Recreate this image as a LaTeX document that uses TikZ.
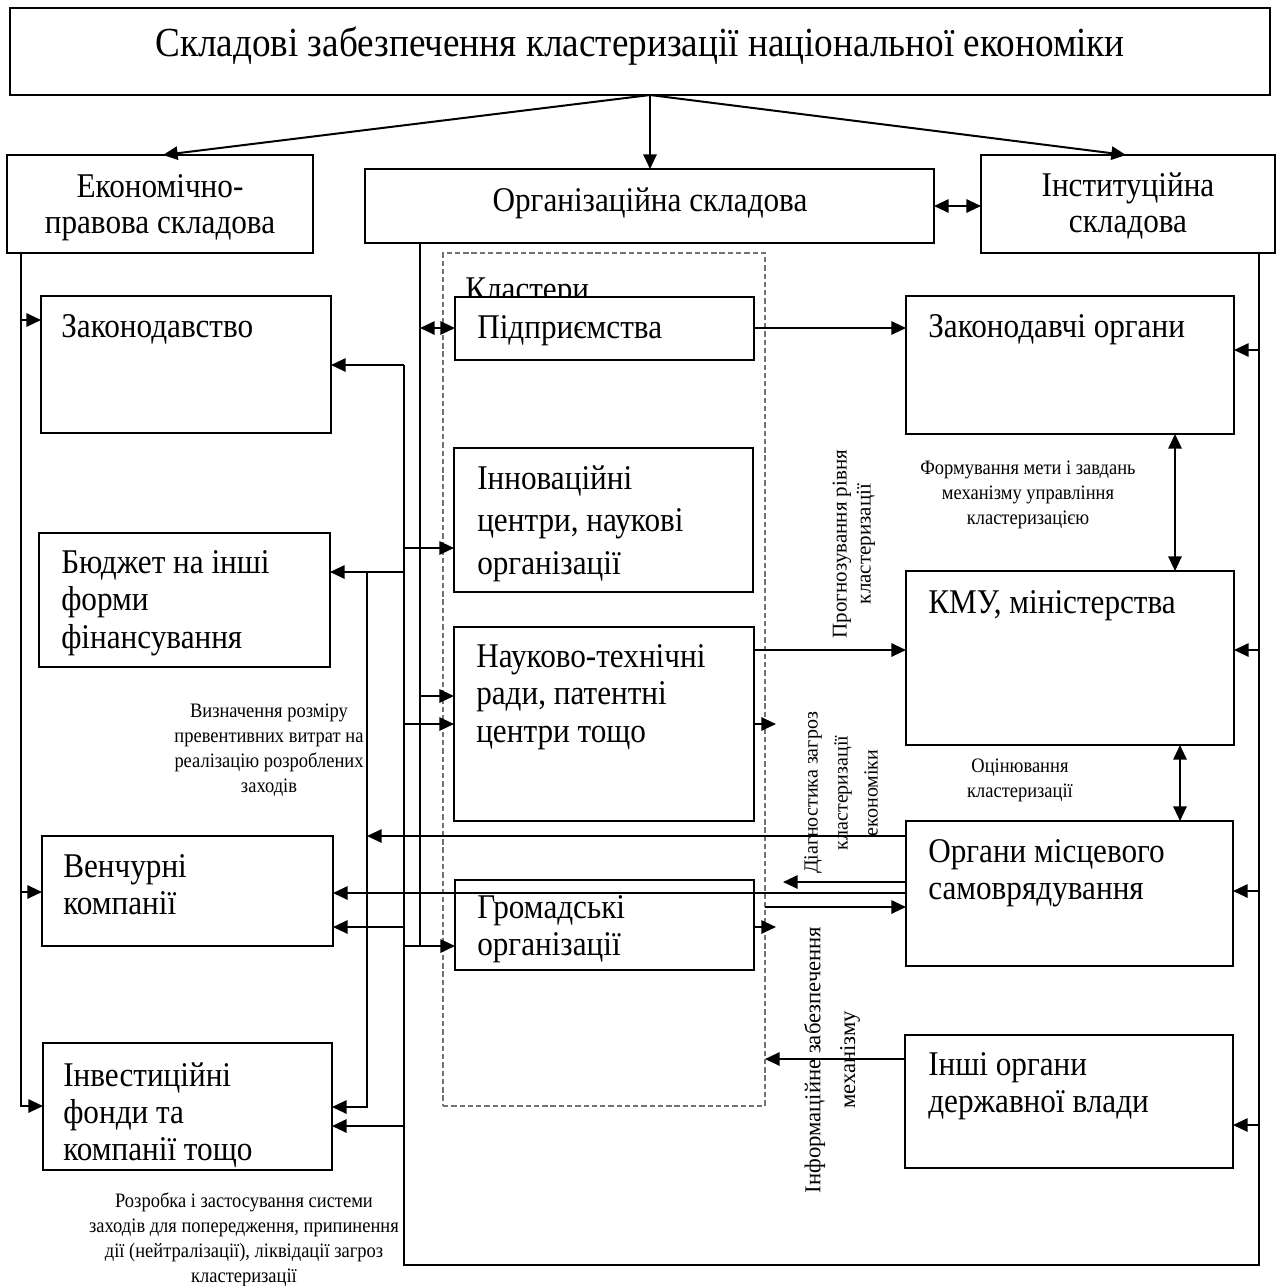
\documentclass[tikz,border=0pt]{standalone}
\usepackage{fontspec}
\setmainfont{Liberation Serif}[FakeStretch=0.9]
\newfontfamily\rotfont{Liberation Serif}
\usetikzlibrary{arrows.meta,fit}
\begin{document}
\begin{tikzpicture}[x=0.75pt,y=-0.75pt,
 bx/.style={draw, line width=1.1pt, fill=white, inner sep=0pt, outer sep=0pt},
 clbox/.style={draw=black!55, dash pattern=on 4pt off 2.2pt, line width=0.9pt, inner sep=0pt, outer sep=0pt},
 ln/.style={line width=1.5pt, line join=miter},
 arr/.style={line width=1.5pt, -{Triangle[length=11pt,width=10pt]}},
 darr/.style={line width=1.5pt, {Triangle[length=11pt,width=10pt]}-{Triangle[length=11pt,width=10pt]}},
 bigtxt/.style={font=\fontsize{26}{28.1}\selectfont, inner sep=0pt, anchor=north west, align=left},
 headtxt/.style={font=\fontsize{26}{27}\selectfont, inner sep=0pt, align=center},
 smalltxt/.style={font=\fontsize{15.4}{18.75}\selectfont, inner sep=0pt, align=center},
 rottxt/.style={inner sep=0pt, align=center, rotate=90}
]
\useasboundingbox (0,0) rectangle (1279,1286);

% cluster frame
\node[clbox, fit={(443,253)(765,1106)}] (clu) {};
\node[bigtxt, anchor=base west] (kl) at (465,300) {Кластери};

% boxes
\node[bx, fit={(10,8)(1270,95)}] (title) {};
\node[bx, fit={(7,155)(313,253)}] (ekon) {};
\node[bx, fit={(365,169)(934,243)}] (org) {};
\node[bx, fit={(981,155)(1275,253)}] (inst) {};
\node[bx, fit={(41,296)(331,433)}] (zak) {};
\node[bx, fit={(39,533)(330,667)}] (bud) {};
\node[bx, fit={(42,836)(333,946)}] (ven) {};
\node[bx, fit={(43,1043)(332,1170)}] (inv) {};
\node[bx, fit={(455,297)(754,360)}] (pid) {};
\node[bx, fit={(454,448)(753,592)}] (inn) {};
\node[bx, fit={(454,627)(754,821)}] (nt) {};
\node[bx, fit={(455,880)(754,970)}] (grom) {};
\node[bx, fit={(906,296)(1234,434)}] (zakorg) {};
\node[bx, fit={(906,571)(1234,745)}] (kmu) {};
\node[bx, fit={(906,821)(1233,966)}] (organy) {};
\node[bx, fit={(905,1035)(1233,1168)}] (inshi) {};

% box texts
\node[headtxt, font=\fontsize{31}{36}\selectfont] (ttitle) at (640,46) {Складові забезпечення кластеризації національної економіки};
\node[headtxt] (tekon) at (160,208) {Економічно-\\правова складова};
\node[headtxt] (torg) at (650,203) {Організаційна складова};
\node[headtxt] (tinst) at (1128,206) {Інституційна\\складова};
\node[bigtxt] (tzak) at (61,314) {Законодавство};
\node[bigtxt] (tpid) at (477,315) {Підприємства};
\node[bigtxt] (tzakorg) at (928,314) {Законодавчі органи};
\node[bigtxt, font=\fontsize{26}{32}\selectfont] (tinn) at (477,465) {Інноваційні\\центри, наукові\\організації};
\node[bigtxt] (tbud) at (61,550) {Бюджет на інші\\форми\\фінансування};
\node[bigtxt] (tnt) at (476,644) {Науково-технічні\\ради, патентні\\центри тощо};
\node[bigtxt] (tkmu) at (928,590) {КМУ, міністерства};
\node[bigtxt] (torgany) at (928,839) {Органи місцевого\\самоврядування};
\node[bigtxt] (tven) at (63,854) {Венчурні\\компанії};
\node[bigtxt] (tgrom) at (477,895) {Громадські\\організації};
\node[bigtxt] (tinv) at (63,1062) {Інвестиційні\\фонди та\\компанії тощо};
\node[bigtxt] (tinshi) at (928,1052) {Інші органи\\державної влади};

% small labels
\node[smalltxt] (lviz) at (269,750) {Визначення розміру\\превентивних витрат на\\реалізацію розроблених\\заходів};
\node[smalltxt] (lform) at (1028,495) {Формування мети і завдань\\механізму управління\\кластеризацією};
\node[smalltxt] (locin) at (1020,780) {Оцінювання\\кластеризації};
\node[smalltxt] (lroz) at (244,1240) {Розробка і застосування системи\\заходів для попередження, припинення\\дії (нейтралізації), ліквідації загроз\\кластеризації};

% rotated labels
\node[rottxt, font=\rotfont\fontsize{15.75}{18}\selectfont] (lprog) at (854,544) {Прогнозування рівня\\кластеризації};
\node[rottxt, font=\rotfont\fontsize{15}{22.5}\selectfont] (ldiag) at (841,793) {Діагностика загроз\\кластеризації\\економіки};
\node[rottxt, font=\rotfont\fontsize{17}{26}\selectfont] (linfo) at (832,1060) {Інформаційне забезпечення\\механізму};

% connectors from the title
\coordinate (t0) at (title.south -| 650,0);
\draw[arr] (t0) -- (ekon.north -| 163,0);
\draw[arr] (t0) -- (org.north -| 650,0);
\draw[arr] (t0) -- (inst.north -| 1126,0);
\draw[darr] (org.east |- 0,206) -- (inst.west |- 0,206);

% left bus
\draw[arr] (ekon.south -| 21,0) |- (zak.west |- 0,320);
\draw[arr] (ekon.south -| 21,0) |- (ven.west |- 0,892);
\draw[arr] (ekon.south -| 21,0) |- (inv.west |- 0,1106);

% right bus
\coordinate (rb) at (1259,1265);
\coordinate (lb) at (404,1265);
\coordinate (b3) at (404,365);
\draw[arr] (inst.south -| 1259,0) |- (zakorg.east |- 0,350);
\draw[arr] (inst.south -| 1259,0) |- (kmu.east |- 0,650);
\draw[arr] (inst.south -| 1259,0) |- (organy.east |- 0,891);
\draw[arr] (inst.south -| 1259,0) |- (inshi.east |- 0,1125);
\draw[ln] (inst.south -| 1259,0) -- (rb) -- (lb) -- (b3);

% bus at x=404
\draw[arr] (b3) -- (zak.east |- b3);
\draw[arr] (b3 |- 0,572) -- (bud.east |- 0,572);
\draw[arr] (b3 |- 0,548) -- (inn.west |- 0,548);
\draw[arr] (b3 |- 0,724) -- (nt.west |- 0,724);
\draw[arr] (b3 |- 0,927) -- (ven.east |- 0,927);
\draw[arr] (b3 |- 0,946) -- (grom.west |- 0,946);
\draw[arr] (b3 |- 0,1126) -- (inv.east |- 0,1126);

% bus at x=367
\coordinate (b2) at (367,572);
\draw[arr] (b2) |- (inv.east |- 0,1107);
\draw[arr] (organy.west |- 0,836) -- (b2 |- 0,836);

% bus at x=420
\coordinate (b4) at (org.south -| 420,0);
\draw[ln] (b4) -- (b4 |- 0,946);
\draw[darr] (b4 |- 0,328) -- (pid.west |- 0,328);
\draw[arr] (b4 |- 0,696) -- (nt.west |- 0,696);

% other connectors
\coordinate (s1) at (776,724);
\coordinate (s2) at (776,927);
\coordinate (s3) at (783,882);
\draw[arr] (pid.east |- 0,328) -- (zakorg.west |- 0,328);
\draw[arr] (nt.east |- 0,650) -- (kmu.west |- 0,650);
\draw[arr] (nt.east |- s1) -- (s1);
\draw[arr] (grom.east |- s2) -- (s2);
\draw[arr] (organy.west |- s3) -- (s3);
\draw[arr] (organy.west |- 0,893) -- (ven.east |- 0,893);
\draw[arr] (clu.east |- 0,907) -- (organy.west |- 0,907);
\draw[arr] (inshi.west |- 0,1059) -- (clu.east |- 0,1059);
\draw[darr] (zakorg.south -| 1175,0) -- (kmu.north -| 1175,0);
\draw[darr] (kmu.south -| 1180,0) -- (organy.north -| 1180,0);
\end{tikzpicture}
\end{document}
